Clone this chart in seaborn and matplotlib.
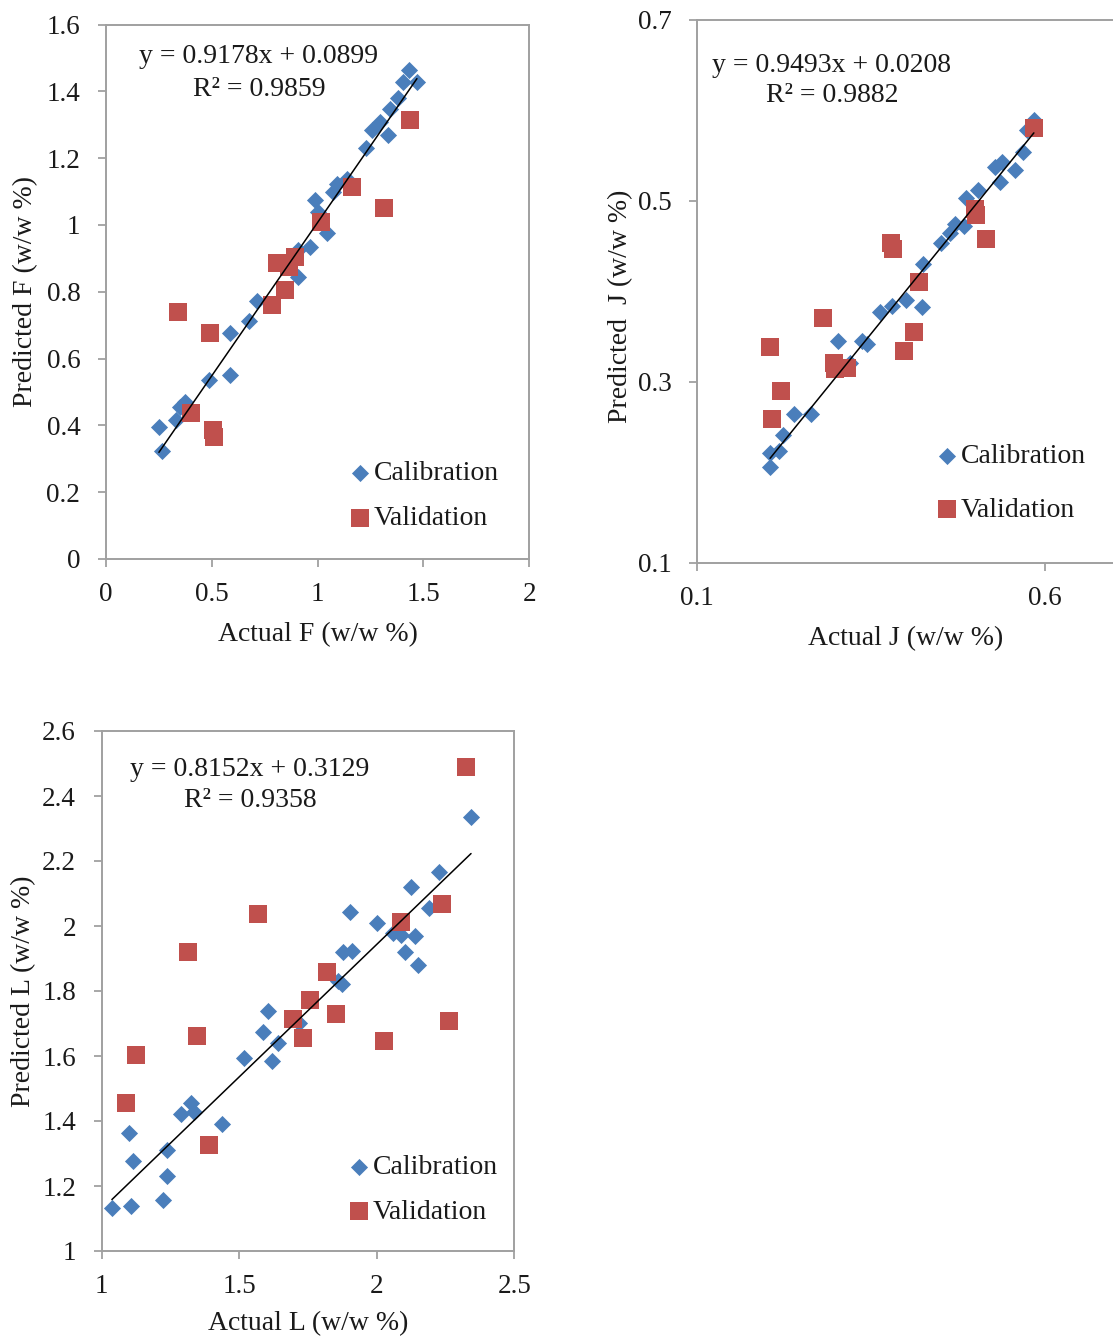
import numpy as np
import pandas as pd
import matplotlib
matplotlib.use("Agg")
import matplotlib.pyplot as plt
import seaborn as sns
from matplotlib.ticker import FuncFormatter, FixedLocator

# ---------------- data ----------------
# F
f_cal_actual = [0.250, 0.265, 0.331, 0.350, 0.373, 0.487, 0.586, 0.586, 0.675, 0.713,
                0.864, 0.907, 0.907, 0.964, 0.987, 1.001, 1.044, 1.072, 1.091, 1.138,
                1.228, 1.256, 1.294, 1.332, 1.342, 1.379, 1.403, 1.431, 1.469]
f_cal_pred = [0.395, 0.323, 0.416, 0.455, 0.470, 0.536, 0.551, 0.677, 0.713, 0.772,
              0.880, 0.844, 0.925, 0.934, 1.075, 1.039, 0.976, 1.099, 1.123, 1.138,
              1.231, 1.284, 1.308, 1.269, 1.347, 1.380, 1.428, 1.464, 1.428]
f_val_actual = [0.340, 0.491, 0.402, 0.505, 0.510, 0.784, 0.846, 0.808, 0.864, 0.893,
                1.436, 1.162, 1.313, 1.016]
f_val_pred = [0.740, 0.677, 0.437, 0.386, 0.365, 0.760, 0.805, 0.886, 0.874, 0.904,
              1.314, 1.114, 1.051, 1.009]
f_fit = [0.9178, 0.0899]
f_eq = ["y = 0.9178x + 0.0899", "R² = 0.9859"]
f_xticks = [0, 0.5, 1, 1.5, 2]
f_yticks = [0, 0.2, 0.4, 0.6, 0.8, 1, 1.2, 1.4, 1.6]

# J
j_cal_actual = [0.205, 0.205, 0.218, 0.224, 0.239, 0.264, 0.303, 0.320, 0.337, 0.344,
                0.363, 0.380, 0.400, 0.423, 0.425, 0.451, 0.464, 0.471, 0.484, 0.487,
                0.504, 0.528, 0.538, 0.535, 0.557, 0.568, 0.574, 0.584]
j_cal_pred = [0.206, 0.221, 0.224, 0.241, 0.264, 0.264, 0.345, 0.321, 0.345, 0.342,
              0.377, 0.384, 0.390, 0.383, 0.430, 0.453, 0.465, 0.475, 0.472, 0.503,
              0.512, 0.537, 0.543, 0.521, 0.534, 0.554, 0.578, 0.589]
j_val_actual = [0.205, 0.221, 0.208, 0.281, 0.297, 0.298, 0.316, 0.379, 0.382, 0.419,
                0.412, 0.397, 0.499, 0.501, 0.515, 0.584]
j_val_pred = [0.339, 0.290, 0.259, 0.371, 0.321, 0.314, 0.315, 0.453, 0.447, 0.410,
              0.355, 0.334, 0.491, 0.484, 0.458, 0.581]
j_fit = [0.9493, 0.0208]
j_eq = ["y = 0.9493x + 0.0208", "R² = 0.9882"]
j_xticks = [0.1, 0.6]
j_yticks = [0.1, 0.3, 0.5, 0.7]

# L
l_cal_actual = [1.037, 1.107, 1.223, 1.114, 1.099, 1.237, 1.237, 1.288, 1.325, 1.336,
                1.437, 1.517, 1.587, 1.605, 1.619, 1.641, 1.717, 1.859, 1.874, 1.877,
                1.910, 1.903, 2.001, 2.059, 2.088, 2.103, 2.139, 2.150, 2.125, 2.190,
                2.227, 2.343]
l_cal_pred = [1.132, 1.138, 1.157, 1.277, 1.363, 1.231, 1.311, 1.422, 1.455, 1.428,
              1.391, 1.594, 1.674, 1.738, 1.585, 1.640, 1.702, 1.831, 1.822, 1.920,
              1.923, 2.043, 2.009, 1.978, 1.972, 1.920, 1.969, 1.880, 2.120, 2.055,
              2.166, 2.335]
l_val_actual = [2.325, 1.568, 1.314, 2.088, 2.237, 1.819, 1.125, 1.088, 1.347, 1.390,
                1.757, 1.695, 1.732, 1.852, 2.027, 2.263]
l_val_pred = [2.489, 2.037, 1.920, 2.012, 2.068, 1.858, 1.603, 1.455, 1.662, 1.326,
              1.772, 1.714, 1.655, 1.729, 1.646, 1.708]
l_fit = [0.8152, 0.3129]
l_eq = ["y = 0.8152x + 0.3129", "R² = 0.9358"]
l_xticks = [1, 1.5, 2, 2.5]
l_yticks = [1, 1.2, 1.4, 1.6, 1.8, 2, 2.2, 2.4, 2.6]

series_labels = ["Calibration", "Validation"]

# ---------------- style ----------------
sns.set_theme(style="white")
plt.rcParams["font.family"] = ["Liberation Serif", "DejaVu Serif"]

BLUE = "#4A7EBB"
RED = "#C0504D"
SPINE = "#A0A0A0"
TXT = "#1a1a1a"
FS = 20
TFS = 19.5

fig = plt.figure(figsize=(11.13, 13.38), dpi=100)

fmt = FuncFormatter(lambda v, p: f"{v:g}")


def panel(rect, cal_x, cal_y, val_x, val_y, fit, eq, xlim, ylim, xticks, yticks,
          xlabel, ylabel, eq_pos, leg_pos, leg_spacing, ylab_xy, xlab_y):
    ax = fig.add_axes(rect)
    cal = pd.DataFrame({"actual": cal_x, "pred": cal_y})
    val = pd.DataFrame({"actual": val_x, "pred": val_y})
    sns.scatterplot(data=cal, x="actual", y="pred", marker="D", s=76, color=BLUE,
                    linewidth=0, ax=ax, label=series_labels[0], legend=False, zorder=3)
    sns.scatterplot(data=val, x="actual", y="pred", marker="s", s=160, color=RED,
                    linewidth=0, ax=ax, label=series_labels[1], legend=False, zorder=4)
    xs = np.array([min(cal_x), max(cal_x)])
    line = pd.DataFrame({"x": xs, "y": fit[0] * xs + fit[1]})
    sns.lineplot(data=line, x="x", y="y", color="black", linewidth=1.1, ax=ax,
                 zorder=5, legend=False)
    ax.set_xlim(*xlim)
    ax.set_ylim(*ylim)
    ax.xaxis.set_major_locator(FixedLocator(xticks))
    ax.yaxis.set_major_locator(FixedLocator(yticks))
    ax.xaxis.set_major_formatter(fmt)
    ax.yaxis.set_major_formatter(fmt)
    for s in ax.spines.values():
        s.set_color(SPINE)
        s.set_linewidth(1.4)
        s.set_visible(True)
    ax.tick_params(axis="both", which="major", direction="out", length=6,
                   width=1.3, color=SPINE, labelsize=TFS, labelcolor=TXT,
                   bottom=True, left=True)
    ax.tick_params(axis="y", pad=12.5)
    ax.tick_params(axis="x", pad=10.5)
    ax.set_xlabel(xlabel, fontsize=FS, color=TXT)
    ax.set_ylabel(ylabel, fontsize=FS, color=TXT)
    ax.xaxis.set_label_coords(0.5, xlab_y)
    ax.yaxis.set_label_coords(*ylab_xy)
    ax.text(eq_pos[0], eq_pos[1], eq[0], transform=ax.transAxes, ha="center",
            va="baseline", fontsize=FS, color=TXT)
    ax.text(eq_pos[0], eq_pos[2], eq[1], transform=ax.transAxes, ha="center",
            va="baseline", fontsize=FS, color=TXT)
    ax.legend(loc="upper left", bbox_to_anchor=leg_pos, frameon=False,
              fontsize=FS, borderpad=0, borderaxespad=0, handlelength=1.0,
              handletextpad=0.0, labelspacing=leg_spacing, scatterpoints=1,
              labelcolor=TXT)
    ax.grid(False)
    return ax


W, H = 1113, 1338


def rect(l, r, t, b):
    return [l / W, (H - b) / H, (r - l) / W, (b - t) / H]


panel(rect(106, 529.3, 24.6, 559), f_cal_actual, f_cal_pred, f_val_actual, f_val_pred,
      f_fit, f_eq, (0, 2), (0, 1.6), f_xticks, f_yticks,
      "Actual F (w/w %)", "Predicted F (w/w %)",
      (0.3615, 0.928, 0.866), (0.567, 0.1834), 0.7, (-0.160, 0.5), -0.119)

panel(rect(697, 1114.6, 20, 562.7), j_cal_actual, j_cal_pred, j_val_actual, j_val_pred,
      j_fit, j_eq, (0.1, 0.7), (0.1, 0.7), j_xticks, j_yticks,
      "Actual J (w/w %)", "Predicted  J (w/w %)",
      (0.323, 0.905, 0.849), (0.565, 0.2187), 1.0, (-0.152, 0.472), -0.116)

panel(rect(101.7, 514.2, 731, 1251), l_cal_actual, l_cal_pred, l_val_actual, l_val_pred,
      l_fit, l_eq, (1, 2.5), (1, 2.6), l_xticks, l_yticks,
      "Actual L (w/w %)", "Predicted L (w/w %)",
      (0.3595, 0.913, 0.854), (0.590, 0.1846), 0.68, (-0.160, 0.5), -0.116)

fig.savefig("out.png", dpi=100, facecolor="white")
